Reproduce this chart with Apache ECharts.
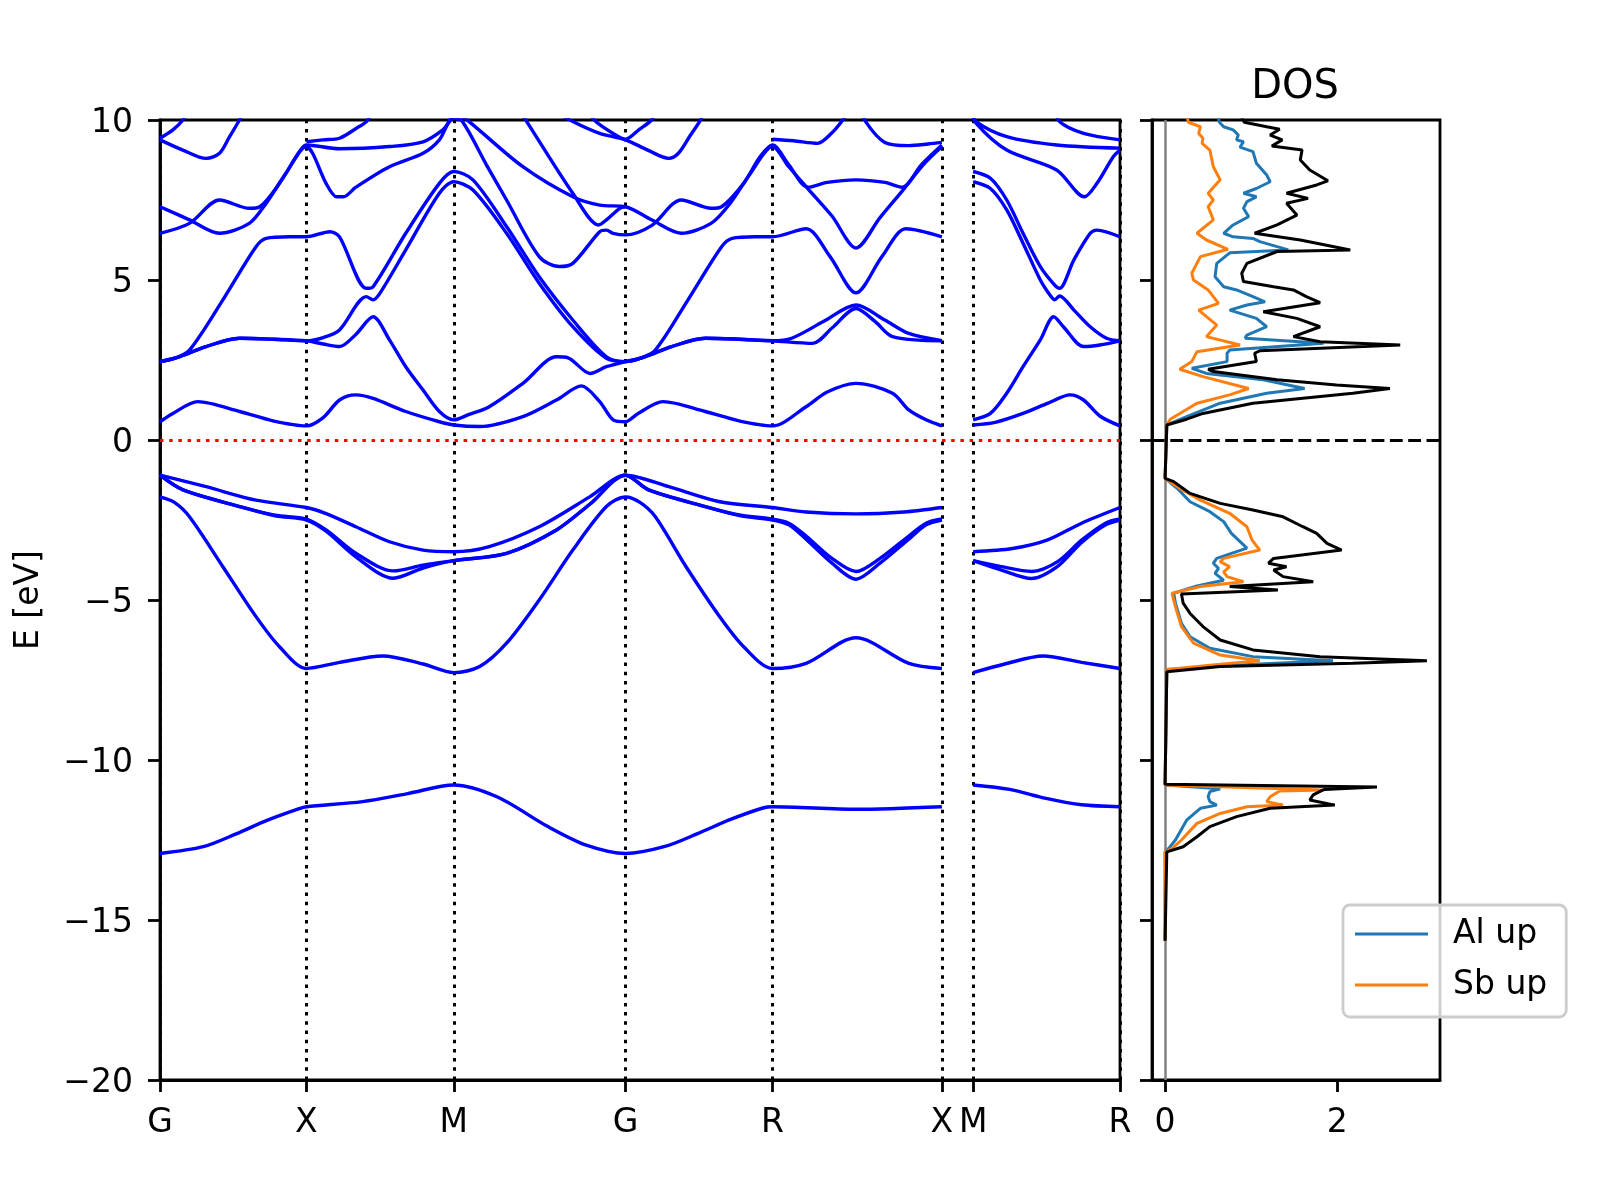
<!DOCTYPE html>
<html>
<head>
<meta charset="utf-8">
<script src="https://cdn.jsdelivr.net/npm/echarts@6/dist/echarts.min.js"></script>
<style>
html, body { margin: 0; padding: 0; background: #fff; }
#main { width: 1600px; height: 1200px; }
</style>
</head>
<body>
<div id="main"></div>
<script>
// k path (high symmetry points)
const kTicks = [0, 15.25, 30.6, 48.5, 63.8, 81.45, 84.7, 100]
const kLabels = ['G', 'X', 'M', 'G', 'R', 'X', 'M', 'R']
const dosTicks = [0, 2]

// bands, path G-X-M-G-R-X : [k, E]
const vA = [[0,-1.1],[4.8,-1.46],[10,-1.88],[15.25,-2.11],[17.3,-2.3],[20.4,-2.71],[23.9,-3.18],[27.4,-3.44],[30.6,-3.49],[34.3,-3.33],[39.5,-2.71],[44.8,-1.77],[48.5,-1.1],[53,-1.46],[58.3,-1.93],[63.8,-2.11],[67.3,-2.25],[72.5,-2.31],[77.5,-2.25],[81.45,-2.11]]
const vB = [[0,-1.1],[2.4,-1.56],[8.3,-2.08],[12,-2.35],[15.25,-2.47],[17.3,-2.81],[20.4,-3.54],[24.3,-4.09],[27.4,-3.91],[30.6,-3.77],[36.1,-3.54],[41.3,-2.81],[44.8,-2.0],[48.5,-1.1],[50.9,-1.56],[56.8,-2.08],[60.5,-2.35],[63.8,-2.47],[65.5,-2.6],[67.3,-3.0],[70,-3.7],[72.5,-4.11],[75,-3.7],[78,-3.0],[79.8,-2.6],[81.45,-2.47]]
const vC = [[0,-1.1],[2.4,-1.56],[8.3,-2.08],[12,-2.37],[15.25,-2.5],[17.3,-2.85],[20.4,-3.65],[24.3,-4.32],[27.4,-4.0],[30.6,-3.77],[36.1,-3.54],[41.3,-2.81],[44.8,-2.0],[48.5,-1.1],[50.9,-1.56],[56.8,-2.08],[60.5,-2.37],[63.8,-2.5],[65.5,-2.65],[67.3,-3.1],[70,-3.85],[72.5,-4.35],[75,-3.85],[78,-3.1],[79.8,-2.65],[81.45,-2.5]]
const vD = [[0,-1.78],[1.5,-1.95],[3.07,-2.4],[6.55,-3.96],[10,-5.52],[12.45,-6.46],[15.25,-7.14],[18.7,-6.95],[23.2,-6.75],[27.4,-7.0],[30.6,-7.27],[33.3,-7.08],[36.1,-6.35],[39.5,-5.0],[43,-3.44],[46.5,-2.08],[48.5,-1.78],[50,-1.95],[51.6,-2.4],[54.8,-3.96],[58.3,-5.52],[60.8,-6.46],[63.8,-7.14],[67.3,-6.98],[72.5,-6.18],[78,-6.98],[81.45,-7.14]]
const vS = [[0,-12.92],[4.5,-12.71],[8,-12.3],[11.2,-11.88],[14.5,-11.52],[15.25,-11.46],[21.1,-11.3],[25.8,-11.05],[30.6,-10.78],[35.1,-11.15],[40.4,-12.08],[44.4,-12.66],[48.5,-12.92],[52.6,-12.7],[56,-12.3],[59.5,-11.85],[62.8,-11.5],[63.8,-11.46],[72.5,-11.54],[81.45,-11.46]]

const c1 = [[0,0.57],[1.34,0.83],[3.94,1.2],[8.3,0.89],[11.76,0.6],[15.25,0.44],[17,0.7],[18.7,1.25],[20.4,1.41],[22.2,1.3],[25.6,0.89],[29.1,0.57],[30.6,0.47],[33.3,0.42],[37.8,0.73],[41.3,1.25],[43.9,1.69],[45.8,1.2],[47.2,0.63],[48.5,0.57],[49.8,0.83],[52.4,1.2],[56.8,0.89],[60.3,0.6],[63.8,0.44],[67.3,1.04],[69.5,1.5],[72.5,1.77],[76.3,1.46],[78,0.94],[79.8,0.63],[81.45,0.44]]
const c2 = [[0,2.45],[2,2.6],[4.8,2.92],[8.3,3.18],[11.8,3.15],[15.25,3.1],[17,3.0],[18.7,2.92],[20.4,3.3],[22.2,3.85],[23.9,3.13],[25.6,2.29],[27.4,1.56],[29.1,0.89],[30.6,0.63],[32.2,0.8],[34.3,1.04],[37.8,1.77],[41.3,2.6],[42.5,2.57],[44.8,2.08],[46.5,2.29],[48.5,2.45],[50.5,2.6],[53.3,2.92],[56.8,3.18],[60.3,3.15],[63.8,3.1],[65.8,3.18],[69.1,3.7],[72.5,4.22],[75.5,3.75],[78,3.33],[81.45,3.1]]
const c3 = [[0,2.45],[2,2.6],[4.8,2.92],[8.3,3.18],[11.8,3.15],[15.25,3.1],[17,3.2],[18.7,3.44],[21.5,4.48],[22.2,4.38],[22.9,4.58],[25.6,5.94],[29.1,7.71],[30.6,8.07],[32.6,7.81],[36.1,6.46],[39.5,4.9],[43,3.54],[46.5,2.55],[48.5,2.45],[50.5,2.6],[53.3,2.92],[56.8,3.18],[60.3,3.15],[63.8,3.1],[68,3.02],[70,3.5],[72.5,4.11],[74.5,3.7],[76.3,3.23],[81.45,3.1]]
const c4 = [[0,2.45],[1.5,2.55],[3.07,2.81],[6.55,4.38],[10,6.04],[11.06,6.3],[13.5,6.35],[15.25,6.35],[17.7,6.51],[18.7,6.35],[21.5,4.74],[22.2,4.79],[25.6,6.46],[29.1,8.02],[30.6,8.39],[32.6,8.13],[36.1,6.67],[39.5,5.1],[43,3.75],[46.5,2.6],[48.5,2.45],[50,2.55],[51.6,2.81],[55,4.38],[58.5,6.04],[59.6,6.3],[62,6.35],[63.8,6.35],[67.3,6.6],[69.8,5.73],[72.5,4.6],[75.2,5.73],[77.7,6.6],[81.45,6.35]]
const c5 = [[0,6.46],[3.07,6.77],[6.2,7.5],[9.3,7.24],[10.4,7.29],[12.45,8.02],[14.2,8.85],[15.25,9.22],[18.7,9.1],[23.9,9.17],[27.4,9.32],[29.5,9.7],[30.6,10.05],[31.5,9.95],[34,8.6],[36.1,7.5],[39.5,5.73],[41.6,5.42],[43,5.52],[45.8,6.51],[46.5,6.56],[47.2,6.46],[48.5,6.41],[51.2,6.7],[54.3,7.5],[57.4,7.24],[58.5,7.29],[60.8,8.02],[62.5,8.85],[63.8,9.22],[65.5,8.6],[67.5,7.9],[69.5,8.05],[72.5,8.13],[75.5,8.05],[77.3,7.9],[79.3,8.6],[81.45,9.22]]
const c6 = [[0,7.29],[3.07,6.88],[6.2,6.46],[9.3,6.77],[11.06,7.4],[13.1,8.33],[15.25,9.17],[15.9,8.96],[17.3,8.02],[18.4,7.6],[19.1,7.6],[20.4,7.9],[23.9,8.54],[27.4,8.96],[29.1,9.38],[30.6,10.1],[31.4,10.1],[32.2,9.95],[37.8,8.54],[43,7.6],[45.8,7.34],[48.5,7.29],[51.2,6.88],[54.3,6.46],[57.4,6.77],[59.4,7.4],[61.5,8.33],[63.8,9.17],[65.5,8.54],[67.5,7.85],[70,7.0],[72.5,6.0],[75,6.95],[77.5,7.85],[79.5,8.6],[81.45,9.17]]
const c7 = [[15.25,9.32],[17,9.38],[18.7,9.43],[20.5,9.75],[21.5,9.95],[22.5,10.4]]
const c8 = [[0,9.38],[2.38,9.06],[4.81,8.8],[6.2,8.96],[7.25,9.48],[8.28,10.0],[9,10.4]]
const c9 = [[0,9.43],[1.34,9.69],[2.38,10.0],[3.2,10.4]]
const c10 = [[37.2,10.4],[38.2,9.95],[43,7.71],[45.7,6.72],[46.5,6.88],[47.9,7.24],[48.5,7.29]]
const c11 = [[41,10.3],[43,9.95],[45.8,9.58],[48.5,9.38],[50.8,9.06],[53,8.8],[54,8.96],[55.2,9.5],[56.2,9.95],[57,10.4]]
const c12 = [[44.5,10.3],[45.4,9.95],[47.2,9.58],[48.5,9.4],[49.9,9.7],[51.2,10.0],[52,10.4]]
const c13 = [[63.8,9.4],[66,9.35],[68.5,9.27],[70,9.6],[71,9.95],[72,10.4]]
const c14 = [[73,10.4],[73.5,9.95],[75.5,9.3],[78,9.2],[80,9.25],[81.45,9.3]]

// bands, path M-R
const vA2 = [[84.7,-3.49],[88.8,-3.39],[92.4,-3.13],[96,-2.6],[100,-2.11]]
const vB2 = [[84.7,-3.77],[87.5,-3.95],[90.8,-4.11],[93.5,-3.8],[96,-3.13],[98.5,-2.6],[100,-2.47]]
const vC2 = [[84.7,-3.77],[87.5,-4.05],[90.8,-4.33],[93.5,-3.95],[96,-3.2],[98.5,-2.65],[100,-2.5]]
const vD2 = [[84.7,-7.27],[88,-7.0],[92,-6.75],[96,-6.95],[100,-7.14]]
const vS2 = [[84.7,-10.78],[88.5,-10.92],[92.3,-11.2],[96,-11.4],[100,-11.46]]
const r1 = [[84.7,0.47],[87,0.55],[89.9,0.83],[92.5,1.15],[94.8,1.41],[96.2,1.25],[97.9,0.75],[100,0.44]]
const r2 = [[84.7,0.63],[86.5,0.83],[88.2,1.46],[89.9,2.29],[91.7,3.13],[93.1,3.85],[94.1,3.54],[96.2,2.92],[97.9,2.97],[100,3.1]]
const r3 = [[84.7,8.07],[86.5,7.86],[88.2,7.19],[89.9,6.15],[91.7,5.0],[92.7,4.53],[93.2,4.38],[93.7,4.5],[95.2,4.06],[96.9,3.54],[98.6,3.18],[100,3.1]]
const r4 = [[84.7,8.39],[86.5,8.18],[88.2,7.5],[89.9,6.46],[91.7,5.42],[93.2,4.84],[93.7,4.74],[95.2,5.63],[96.9,6.46],[97.6,6.56],[100,6.35]]
const r5 = [[84.4,10.3],[85.0,9.95],[88.2,9.48],[93.4,9.22],[100,9.12]]
const r6 = [[84.6,10.3],[85.0,9.9],[88.2,9.06],[93.4,8.44],[96.3,7.6],[97.6,8.02],[99.3,8.85],[100,9.06]]
const r7 = [[93.3,10.4],[93.7,9.95],[96.2,9.58],[100,9.38]]

const bands = [vA, vB, vC, vD, vS, c1, c2, c3, c4, c5, c6, c7, c8, c9, c10, c11, c12, c13, c14,
  vA2, vB2, vC2, vD2, vS2, r1, r2, r3, r4, r5, r6, r7]

// DOS : [dos, E]
const dosTotal = [[0.85,10.3],[0.92,9.93],[1.18,9.79],[1.33,9.71],[1.22,9.53],[1.36,9.38],[1.24,9.19],[1.59,9.06],[1.57,8.75],[1.68,8.44],[1.89,8.10],[1.76,7.97],[1.41,7.71],[1.66,7.55],[1.41,7.40],[1.53,7.03],[1.30,6.72],[1.04,6.46],[1.57,6.25],[2.15,5.94],[1.30,5.89],[0.95,5.52],[0.89,5.21],[0.91,4.95],[1.26,4.79],[1.49,4.69],[1.64,4.48],[1.80,4.29],[1.14,4.01],[1.53,3.80],[1.80,3.54],[1.49,3.23],[1.80,3.07],[2.73,2.97],[1.10,2.79],[1.04,2.71],[1.06,2.45],[0.50,2.21],[0.56,2.14],[1.30,1.88],[1.99,1.72],[2.61,1.61],[2.18,1.46],[1.02,1.15],[0.44,0.83],[0.25,0.65],[0.02,0.47],[0,0.45],
  [0,-1.2],[0.10,-1.30],[0.29,-1.67],[0.64,-1.98],[1.02,-2.19],[1.37,-2.40],[1.60,-2.71],[1.76,-2.92],[1.88,-3.23],[2.05,-3.44],[1.26,-3.70],[1.20,-3.85],[1.41,-3.96],[1.26,-4.06],[1.37,-4.27],[1.72,-4.43],[0.75,-4.58],[1.31,-4.69],[0.19,-4.81],[0.21,-5.10],[0.29,-5.42],[0.44,-5.83],[0.64,-6.25],[1.02,-6.56],[1.80,-6.77],[3.04,-6.90],[2.18,-6.98],[0.64,-7.08],[0.02,-7.24],[0,-7.26],
  [0,-10.76],[2.46,-10.84],[1.85,-10.92],[1.80,-10.98],[1.72,-11.09],[1.68,-11.25],[1.97,-11.41],[1.22,-11.51],[0.83,-11.77],[0.52,-12.08],[0.37,-12.40],[0.21,-12.71],[0.02,-12.87],[0,-12.9],[0,-15.65]]
const dosAl = [[0.6,10.3],[0.63,9.93],[0.68,9.79],[0.79,9.69],[0.85,9.53],[0.83,9.38],[0.91,9.32],[0.87,9.15],[1.02,9.01],[1.06,8.65],[1.18,8.28],[1.22,8.07],[1.06,7.86],[0.91,7.71],[1.06,7.60],[0.95,7.45],[0.91,7.24],[0.97,6.98],[0.79,6.72],[0.68,6.46],[0.79,6.35],[1.02,6.30],[1.10,6.20],[1.43,5.94],[0.75,5.85],[0.60,5.52],[0.58,5.10],[0.68,4.79],[0.83,4.69],[1.02,4.48],[1.16,4.32],[0.95,4.22],[0.75,4.06],[1.06,3.80],[1.18,3.54],[0.95,3.28],[0.93,3.18],[1.84,3.02],[0.75,2.81],[0.72,2.71],[0.72,2.45],[0.31,2.24],[0.48,2.08],[1.14,1.88],[1.62,1.61],[1.18,1.46],[0.64,1.15],[0.25,0.73],[0.02,0.47],[0,0.45],
  [0,-1.2],[0.14,-1.51],[0.29,-1.93],[0.52,-2.24],[0.68,-2.55],[0.77,-2.92],[0.95,-3.38],[0.60,-3.70],[0.56,-3.85],[0.62,-4.01],[0.58,-4.17],[0.68,-4.38],[0.37,-4.56],[0.10,-4.79],[0.12,-5.10],[0.19,-5.73],[0.29,-6.15],[0.52,-6.51],[1.02,-6.77],[1.95,-6.90],[1.02,-7.01],[0.02,-7.17],[0,-7.2],
  [0,-10.78],[0.64,-10.9],[0.52,-10.99],[0.50,-11.15],[0.52,-11.30],[0.60,-11.41],[0.41,-11.51],[0.25,-11.88],[0.12,-12.5],[0.04,-12.77],[0,-12.87],[0,-15.65]]
const dosSb = [[0.24,10.3],[0.27,9.93],[0.41,9.79],[0.39,9.58],[0.44,9.43],[0.43,9.27],[0.52,9.06],[0.56,8.54],[0.64,8.13],[0.50,7.71],[0.56,7.50],[0.50,7.29],[0.56,6.88],[0.37,6.46],[0.48,6.25],[0.73,5.96],[0.41,5.73],[0.31,5.21],[0.33,5.0],[0.50,4.69],[0.62,4.27],[0.39,4.06],[0.60,3.59],[0.48,3.23],[0.87,2.97],[0.37,2.76],[0.31,2.45],[0.17,2.21],[0.44,1.98],[0.97,1.61],[0.75,1.41],[0.37,1.15],[0.06,0.65],[0.02,0.47],[0,0.45],
  [0,-1.2],[0.17,-1.51],[0.41,-1.88],[0.75,-2.29],[0.95,-2.71],[1.01,-3.13],[1.10,-3.44],[0.68,-3.70],[0.64,-3.80],[0.75,-3.96],[0.68,-4.12],[0.72,-4.27],[0.91,-4.43],[0.41,-4.58],[0.08,-4.79],[0.12,-5.21],[0.19,-5.83],[0.33,-6.35],[0.64,-6.72],[1.10,-6.90],[0.64,-7.01],[0.02,-7.17],[0,-7.2],
  [0,-10.78],[1.84,-10.94],[1.33,-10.97],[1.22,-11.15],[1.18,-11.30],[1.37,-11.41],[0.95,-11.46],[0.64,-11.67],[0.37,-11.98],[0.19,-12.5],[0.08,-12.77],[0,-12.87],[0,-15.65]]

const font = 'DejaVu Sans'
const black = { color: '#000', width: 2.8 }
const chart = echarts.init(document.getElementById('main'))

// unicode minus, nudged down a little like matplotlib
const minus = v => '{n|' + (v < 0 ? '\u2212' + (-v) : String(v)) + '}'

const series = [
  {
    type: 'line', xAxisIndex: 0, yAxisIndex: 0, data: [], silent: true,
    markLine: {
      silent: true, symbol: ['none', 'none'], label: { show: false }, animation: false, z: 1,
      lineStyle: { color: '#000', width: 3, type: [3.5, 5.7] },
      data: kTicks.map(k => ({ xAxis: k })).concat([{ yAxis: 0, lineStyle: { color: '#ff0000', width: 3, type: [3.5, 5.7] } }])
    }
  },
  {
    type: 'line', xAxisIndex: 1, yAxisIndex: 1, data: [], silent: true,
    markLine: {
      silent: true, symbol: ['none', 'none'], label: { show: false }, animation: false, z: 1,
      data: [
        { xAxis: 0, lineStyle: { color: '#808080', width: 2.5, type: 'solid' } },
        { yAxis: 0, lineStyle: { color: '#000', width: 3, type: [12.8, 5.5] } }
      ]
    }
  }
]

bands.forEach(b => {
  series.push({
    type: 'line', xAxisIndex: 0, yAxisIndex: 0, data: b, smooth: 0.3,
    symbol: 'none', silent: true, z: 3,
    lineStyle: { color: '#0000ff', width: 3.4 }
  })
})

const dosStyle = (name, data, color) => ({
  name, type: 'line', xAxisIndex: 1, yAxisIndex: 1, data,
  symbol: 'none', silent: true, z: 3,
  itemStyle: { color },
  lineStyle: { color, width: 3 }
})
series.push(dosStyle('Al up', dosAl, '#1f77b4'))
series.push(dosStyle('Sb up', dosSb, '#ff7f0e'))
series.push(dosStyle('total', dosTotal, '#000000'))

const option = {
  animation: false,
  textStyle: { fontFamily: font },
  title: {
    text: 'DOS', left: 1290, top: 63, textAlign: 'center',
    textStyle: { fontSize: 40, fontWeight: 'normal', color: '#000', fontFamily: font }
  },
  legend: {
    data: [{ name: 'Al up', icon: 'rect' }, { name: 'Sb up', icon: 'rect' }],
    orient: 'vertical', left: 1343, top: 905,
    padding: [9, 19, 12, 12], itemWidth: 73, itemHeight: 3, itemGap: 11,
    backgroundColor: 'rgba(255,255,255,0.8)', borderColor: '#cccccc', borderWidth: 2.8, borderRadius: 7,
    textStyle: { fontSize: 33, color: '#000', fontFamily: font, lineHeight: 40, padding: [0, 0, 0, 20] }
  },
  grid: [
    { left: 160, top: 120, width: 960, height: 960, show: true, borderColor: '#000', borderWidth: 2.8, containLabel: false, outerBoundsMode: 'none' },
    { left: 1152, top: 120, width: 288, height: 960, show: true, borderColor: '#000', borderWidth: 2.8, containLabel: false, outerBoundsMode: 'none' }
  ],
  xAxis: [
    {
      gridIndex: 0, type: 'value', min: 0, max: 100,
      axisLine: { show: true, onZero: false, lineStyle: black },
      axisTick: { show: true, customValues: kTicks, length: 12, lineStyle: black },
      axisLabel: {
        customValues: kTicks, color: '#000', fontSize: 33, fontFamily: font, margin: 27,
        formatter: v => {
          const i = kTicks.findIndex(k => Math.abs(k - v) < 1e-6)
          return i >= 0 ? kLabels[i] : ''
        }
      },
      splitLine: { show: false }
    },
    {
      gridIndex: 1, type: 'value', min: -0.152, max: 3.192,
      axisLine: { show: true, onZero: false, lineStyle: black },
      axisTick: { show: true, customValues: dosTicks, length: 12, lineStyle: black },
      axisLabel: { customValues: dosTicks, color: '#000', fontSize: 33, fontFamily: font, margin: 27, formatter: v => String(v) },
      splitLine: { show: false }
    }
  ],
  yAxis: [
    {
      gridIndex: 0, type: 'value', min: -20, max: 10, interval: 5,
      axisLine: { show: true, onZero: false, lineStyle: black },
      axisTick: { show: true, length: 12, lineStyle: black },
      axisLabel: {
        color: '#000', fontSize: 33, fontFamily: font, margin: 27, formatter: minus,
        rich: { n: { fontSize: 33, fontFamily: font, color: '#000', padding: [6, 0, 0, 0] } }
      },
      splitLine: { show: false },
      name: 'E [eV]', nameLocation: 'middle', nameGap: 114, nameRotate: 90,
      nameTextStyle: { fontSize: 33, color: '#000', fontFamily: font }
    },
    {
      gridIndex: 1, type: 'value', min: -20, max: 10, interval: 5,
      axisLine: { show: true, onZero: false, lineStyle: black },
      axisTick: { show: true, length: 12, lineStyle: black },
      axisLabel: { show: false },
      splitLine: { show: false }
    }
  ],
  series
}

chart.setOption(option)
</script>
</body>
</html>
